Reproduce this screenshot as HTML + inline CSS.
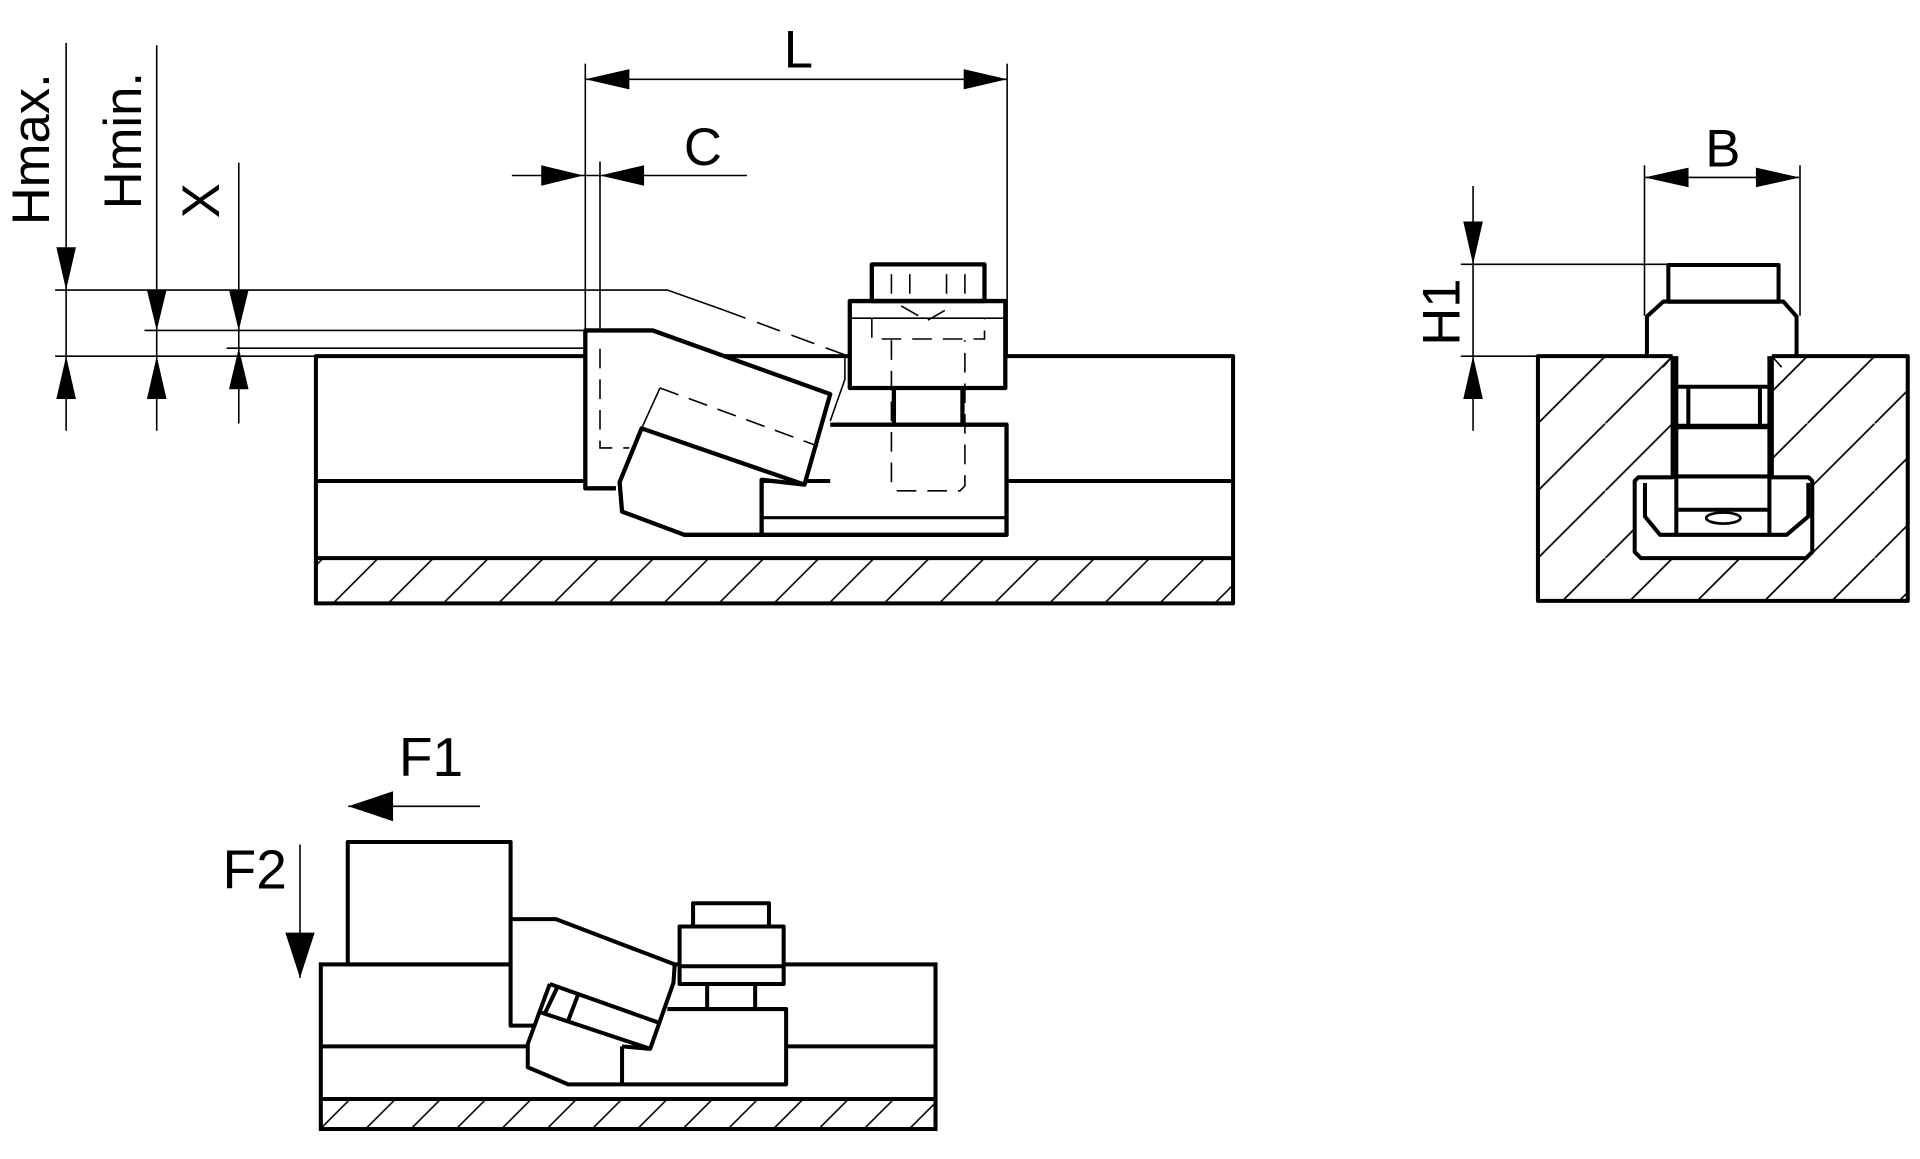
<!DOCTYPE html>
<html><head><meta charset="utf-8"><style>
html,body{margin:0;padding:0;background:#fff;}
svg{display:block;}
text{font-family:"Liberation Sans",sans-serif;fill:#000;}
</style></head><body>
<svg width="1920" height="1159" viewBox="0 0 1568 947" preserveAspectRatio="none" xmlns="http://www.w3.org/2000/svg">
<defs>
<pattern id="h1" patternUnits="userSpaceOnUse" width="45" height="45"><line x1="-5" y1="50" x2="50" y2="-5" stroke="#000" stroke-width="1.3"/></pattern>
<pattern id="h2" patternUnits="userSpaceOnUse" width="55" height="55" x="1256" y="291"><line x1="-5" y1="60" x2="60" y2="-5" stroke="#000" stroke-width="1.4"/></pattern>
<pattern id="h3" patternUnits="userSpaceOnUse" width="37" height="37"><line x1="-5" y1="42" x2="42" y2="-5" stroke="#000" stroke-width="1.3"/></pattern>
</defs>
<rect width="1568" height="947" fill="#fff"/>

<g stroke="#000" stroke-width="1.3" fill="none">
  <line x1="54" y1="35" x2="54" y2="352"/>
  <line x1="128" y1="37" x2="128" y2="352"/>
  <line x1="195" y1="133" x2="195" y2="346"/>
  <polyline points="45,237 545,237 590,253"/>
  <line x1="590" y1="253" x2="690" y2="290" stroke-dasharray="20,10"/>
  <line x1="118" y1="270" x2="478" y2="270"/>
  <line x1="185" y1="284.5" x2="572" y2="284.5"/>
  <line x1="45" y1="291" x2="258" y2="291"/>
  <line x1="478" y1="52" x2="478" y2="270"/>
  <line x1="822.5" y1="52" x2="822.5" y2="291"/>
  <line x1="478" y1="64.8" x2="822.5" y2="64.8"/>
  <line x1="418" y1="143.4" x2="610" y2="143.4"/>
  <line x1="490" y1="132" x2="490" y2="284"/>
</g>
<g fill="#000">
  <polygon points="54,237 46,202 62,202"/>
  <polygon points="54,291 46,326 62,326"/>
  <polygon points="128,270 120,237 136,237"/>
  <polygon points="128,291 120,326 136,326"/>
  <polygon points="195,270 187,237 203,237"/>
  <polygon points="195,284.5 187,318 203,318"/>
  <polygon points="478,64.8 514,56.5 514,73"/>
  <polygon points="822.5,64.8 787,56.5 787,73"/>
  <polygon points="476.5,143.4 442,135 442,151.8"/>
  <polygon points="490,143.4 526,135 526,151.8"/>
</g>
<text transform="translate(40,122) rotate(-90)" text-anchor="middle" font-size="43">Hmax.</text>
<text transform="translate(115,115) rotate(-90)" text-anchor="middle" font-size="43">Hmin.</text>
<text transform="translate(179,164) rotate(-90)" text-anchor="middle" font-size="43">X</text>
<text x="652" y="55" text-anchor="middle" font-size="43">L</text>
<text x="574" y="135" text-anchor="middle" font-size="43">C</text>

<rect x="258" y="456" width="749" height="37" fill="url(#h1)"/>
<g stroke="#000" stroke-width="3.3" fill="none" stroke-linejoin="round">
  <rect x="258" y="291" width="749" height="202" fill="none"/>
  <line x1="258" y1="393" x2="1007" y2="393"/>
  <line x1="258" y1="456" x2="1007" y2="456"/>
</g>
<g fill="#fff" stroke="none">
  <polygon points="478,270 533,270 678,322 657,396 622,392 622,437 559,437 508,418 506,399 478,399"/>
  <rect x="694" y="246" width="127" height="71"/>
  <rect x="712" y="216" width="92" height="30"/>
  <rect x="678" y="347" width="144" height="90"/>
</g>
<g stroke="#000" stroke-width="1.3" fill="none" stroke-dasharray="16,9">
  <polyline points="490,285 490,366 514,366"/>
  <line x1="539" y1="317" x2="668" y2="364.5"/>
  <polyline points="728,278 728,397 732,401 784,401 788,397 788,278"/>
  <line x1="728" y1="224" x2="728" y2="246"/>
  <line x1="743" y1="224" x2="743" y2="246"/>
  <line x1="773" y1="224" x2="773" y2="246"/>
  <line x1="788" y1="224" x2="788" y2="246"/>
  <polyline points="712,260 712,277 804,277 804,260"/>
  <polyline points="736,250 757,262 778,250"/>
</g>
<g stroke="#000" stroke-width="1.3" fill="none">
  <polyline points="690,291 690,310 678,344"/>
  <line x1="694" y1="260" x2="821" y2="260"/>
  <line x1="539" y1="317" x2="524" y2="350"/>
  <line x1="622" y1="423" x2="822" y2="423"/>
</g>
<g stroke="#000" stroke-width="3.5" fill="none" stroke-linejoin="round">
  <polyline points="503,399 478,399 478,270 533,270 678,322 657,396 524,350 506,394 508,418 559,437 822,437 822,347 678,347"/>
  <polyline points="622,437 622,392 657,396"/>
  <rect x="694" y="246" width="127" height="71"/>
  <rect x="712" y="216" width="92" height="30"/>
  <line x1="730" y1="317" x2="730" y2="347"/>
  <line x1="786" y1="317" x2="786" y2="347"/>
  <line x1="622" y1="423" x2="822" y2="423" stroke-width="2.5"/>
</g>

<path d="M1256,291 H1558 V491 H1256 Z M1366,291 V390 H1335 V456 H1480 V390 H1447 V291 Z" fill="url(#h2)" fill-rule="evenodd"/>
<g stroke="#000" stroke-width="1.3" fill="none">
  <line x1="1343" y1="135" x2="1343" y2="258"/>
  <line x1="1470" y1="135" x2="1470" y2="258"/>
  <line x1="1343" y1="145" x2="1470" y2="145"/>
  <line x1="1203" y1="152" x2="1203" y2="352"/>
  <line x1="1193" y1="216" x2="1362" y2="216"/>
  <line x1="1193" y1="291" x2="1256" y2="291"/>
</g>
<g fill="#000">
  <polygon points="1343,145 1379,137 1379,153"/>
  <polygon points="1470,145 1434,137 1434,153"/>
  <polygon points="1203,216 1195,181 1211,181"/>
  <polygon points="1203,291 1195,326 1211,326"/>
</g>
<text x="1407" y="136" text-anchor="middle" font-size="43">B</text>
<text transform="translate(1192,255) rotate(-90)" text-anchor="middle" font-size="43">H1</text>
<rect x="1335" y="390" width="145" height="66" fill="#fff" stroke="none"/>
<g stroke="#000" stroke-width="3.3" fill="none" stroke-linejoin="round">
  <polyline points="1366,291 1256,291 1256,491 1558,491 1558,291 1447,291"/>
  <polyline points="1366,291 1366,390 1338,390 1335,393 1335,451 1340,456 1475,456 1480,451 1480,393 1477,390 1447,390 1447,291"/>
  <rect x="1362.5" y="216.5" width="90" height="30"/>
  <polyline points="1345,291 1345,258.6 1358.4,246.4 1456.4,246.4 1467.2,258.6 1467.2,291"/>
  <line x1="1369" y1="316" x2="1445" y2="316"/>
  <line x1="1369" y1="348.5" x2="1445" y2="348.5" stroke-width="4.5"/>
  <line x1="1378.8" y1="316" x2="1378.8" y2="348"/>
  <line x1="1437.3" y1="316" x2="1437.3" y2="348"/>
  <line x1="1369" y1="291" x2="1369" y2="437"/>
  <line x1="1445" y1="291" x2="1445" y2="437"/>
  <line x1="1369" y1="389.3" x2="1445" y2="389.3"/>
  <line x1="1369" y1="416.5" x2="1445" y2="416.5"/>
  <polyline points="1343.4,394.7 1343.4,422 1355.7,437 1459.1,437 1476.8,422 1476.8,394.7"/>
</g>
<g stroke="#000" stroke-width="1.3" fill="none">
  <line x1="1366" y1="291" x2="1358" y2="300"/>
  <line x1="1447" y1="291" x2="1455" y2="300"/>
  <ellipse cx="1407.4" cy="423.3" rx="14" ry="4.5" stroke-width="2.2"/>
</g>

<g stroke="#000" stroke-width="1.3" fill="none">
  <line x1="284.4" y1="658.8" x2="392" y2="658.8"/>
  <line x1="245" y1="690" x2="245" y2="799"/>
</g>
<g fill="#000">
  <polygon points="284.4,658.8 321,646.5 321,671"/>
  <polygon points="245,799 233,762 257,762"/>
</g>
<text x="352" y="634" text-anchor="middle" font-size="45">F1</text>
<text x="208" y="726" text-anchor="middle" font-size="45">F2</text>

<rect x="262" y="898" width="502" height="24.5" fill="url(#h3)"/>
<g stroke="#000" stroke-width="3.3" fill="none">
  <rect x="262" y="788" width="502" height="134.5"/>
  <line x1="262" y1="855" x2="764" y2="855"/>
  <line x1="262" y1="898" x2="764" y2="898"/>
</g>
<g fill="#fff" stroke="none">
  <rect x="284" y="688" width="133" height="100"/>
  <polygon points="417,751 454,751 551,788 550,803 531,857 508,855 508,886 464,886 431,872 431,853 436,838 417,838"/>
  <rect x="508" y="825" width="134" height="61"/>
  <rect x="555" y="757" width="85" height="47"/>
  <rect x="566" y="738" width="62" height="19"/>
</g>
<g stroke="#000" stroke-width="3.3" fill="none" stroke-linejoin="round">
  <rect x="284" y="688" width="133" height="100"/>
  <polyline points="417,788 417,838 436,838"/>
  <polyline points="417,751 454,751 551,788 550,803 531,857 508,855"/>
  <polyline points="449,804 538,835.6"/>
  <polyline points="449,804 431,853 431,872 464,886 642,886 642,824.5 545,824.5"/>
  <line x1="508" y1="855" x2="508" y2="886"/>
  <line x1="441" y1="827" x2="531" y2="857"/>
  <line x1="455" y1="807" x2="445" y2="828"/>
  <line x1="472" y1="813" x2="464" y2="834"/>
  <rect x="555" y="757" width="85" height="47"/>
  <line x1="555" y1="789.5" x2="640" y2="789.5"/>
  <rect x="566" y="738" width="62" height="19"/>
  <line x1="577.5" y1="804" x2="577.5" y2="824.5"/>
  <line x1="616.7" y1="804" x2="616.7" y2="824.5"/>
</g>
</svg>
</body></html>
